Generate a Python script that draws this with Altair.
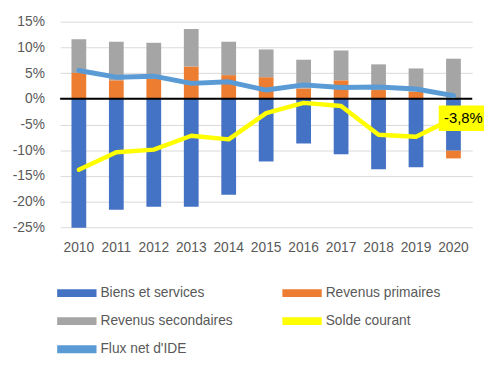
import altair as alt
import pandas as pd

years = ["2010", "2011", "2012", "2013", "2014", "2015", "2016", "2017", "2018", "2019", "2020"]
biens = [-25.1, -21.6, -21.0, -21.0, -18.7, -12.2, -8.7, -10.8, -13.7, -13.3, -10.1]
rev_prim = [5.0, 3.6, 3.9, 6.3, 4.6, 4.2, 2.0, 3.6, 1.7, 1.4, -1.5]
rev_sec = [6.6, 7.5, 7.0, 7.3, 6.5, 5.4, 5.6, 5.8, 5.0, 4.5, 7.8]
solde = [-13.8, -10.4, -9.9, -7.2, -7.9, -2.8, -0.8, -1.4, -7.0, -7.4, -3.8]
ide = [5.5, 4.2, 4.4, 3.0, 3.3, 1.7, 2.7, 2.2, 2.3, 1.9, 0.6]
y_ticks = [-25, -20, -15, -10, -5, 0, 5, 10, 15]

series = ["Biens et services", "Revenus primaires", "Revenus secondaires", "Solde courant", "Flux net d'IDE"]
colors = ["#4472C4", "#ED7D31", "#A5A5A5", "#FFFF00", "#5B9BD5"]

# legend is laid out column by column: order entries so rows read as in the reference
legend_order = [0, 2, 4, 1, 3]
legend_domain = [series[i] for i in legend_order]
legend_range = [colors[i] for i in legend_order]

rows = []
for name, vals in zip(series, [biens, rev_prim, rev_sec, solde, ide]):
    for y, v in zip(years, vals):
        rows.append({"year": y, "series": name, "value": v, "order": series.index(name)})
df = pd.DataFrame(rows)

bars_df = df[df["series"].isin(series[:3])]
solde_df = df[df["series"] == "Solde courant"]
ide_df = df[df["series"] == "Flux net d'IDE"]
label_df = pd.DataFrame({
    "year": [years[-1]],
    "value": [solde[-1]],
    "label": [("%.1f" % solde[-1]).replace(".", ",") + "%"],
})

font = "Liberation Sans"
grey_txt = "#595959"

x_axis = alt.Axis(labelAngle=0, domain=False, ticks=False, labelPadding=14,
                  labelFontSize=14, labelColor=grey_txt, labelFont=font, grid=False)
x_scale = alt.Scale(paddingInner=0, paddingOuter=0)
y_scale = alt.Scale(domain=[-25, 15], nice=False, zero=False)
y_axis = alt.Axis(values=y_ticks, domain=False, ticks=False,
                  labelPadding=16, labelFontSize=14, labelColor=grey_txt, labelFont=font,
                  labelOverlap=False, labelExpr="datum.value + '%'", gridColor="#D9D9D9", gridWidth=1)

def X():
    return alt.X("year:N", title=None, sort=years, scale=x_scale, axis=x_axis)

def Y(field="value:Q", **kw):
    return alt.Y(field, title=None, scale=y_scale, axis=y_axis, **kw)

legend = alt.Legend(title=None, orient="none", legendX=-6, legendY=269, columns=2,
                    symbolType="M-1,-1L9,-1L9,1L-1,1Z", symbolSize=64, symbolStrokeWidth=0,
                    labelOffset=33, columnPadding=47, rowPadding=14.5,
                    labelFontSize=14, labelColor=grey_txt, labelFont=font)
color_enc = alt.Color("series:N", scale=alt.Scale(domain=legend_domain, range=legend_range), legend=legend)

bars = alt.Chart(bars_df).mark_bar(size=15).encode(
    x=X(), y=Y(stack="zero"), color=color_enc, order=alt.Order("order:Q"))

zero = alt.Chart(pd.DataFrame({"value": [0]})).mark_rule(color="black", strokeWidth=2).encode(y=Y())

ide_line = alt.Chart(ide_df).mark_line(strokeWidth=5, strokeJoin="round", strokeCap="round").encode(
    x=X(), y=Y(), color=color_enc)

solde_line = alt.Chart(solde_df).mark_line(strokeWidth=4.5, strokeJoin="round", strokeCap="round").encode(
    x=X(), y=Y(), color=color_enc)

box = alt.Chart(label_df).mark_point(
    shape="M-1,-0.52L1,-0.52L1,0.52L-1,0.52Z", size=2500, filled=True, fill="#FFFF00",
    opacity=1, strokeWidth=0, xOffset=10).encode(x=X(), y=Y())

txt = alt.Chart(label_df).mark_text(fontSize=15, font=font, color="black", dx=10).encode(
    x=X(), y=Y(), text="label:N")

chart = alt.layer(bars, zero, ide_line, solde_line, box, txt).properties(
    width=419, height=209,
    autosize=alt.AutoSizeParams(type="none"),
    padding={"left": 53, "top": 11, "right": 12, "bottom": 129},
).configure_view(stroke=None).configure_axisY(labelOverlap=False)

chart.save("out.html", embed_options={"renderer": "svg", "actions": False})
